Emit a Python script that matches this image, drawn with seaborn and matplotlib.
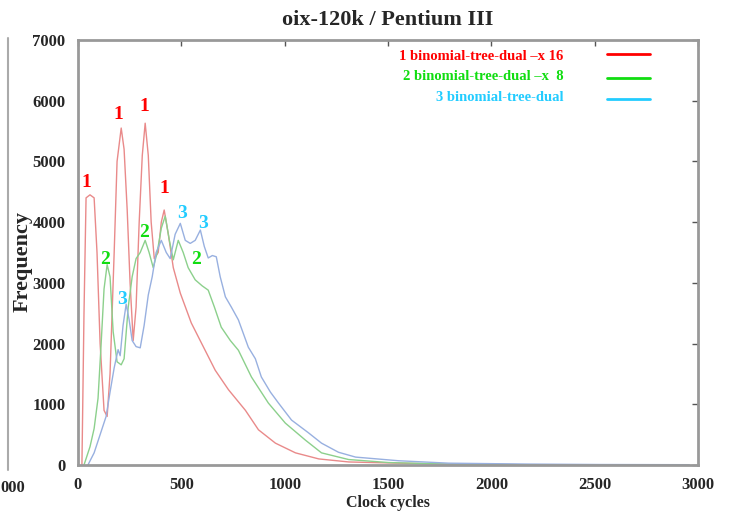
import numpy as np
import pandas as pd
import matplotlib
matplotlib.use("Agg")
import matplotlib.pyplot as plt
from matplotlib.lines import Line2D
import seaborn as sns

# ---------------- data ----------------
red_x = [19, 29, 39, 58, 78, 92, 107, 126, 141, 155, 175, 189, 209, 223, 238, 252, 267, 281,
         296, 311, 325, 340, 354, 369, 388, 403, 417, 437, 461, 495, 548, 597, 664, 728, 810,
         873, 955, 1052, 1165, 1310, 1550, 1795, 2130, 2330]
red_y = [0, 2500, 4400, 4450, 4400, 3500, 2000, 900, 800, 1500, 3500, 5000, 5550, 5200, 4200,
         3000, 2050, 2600, 4000, 5100, 5630, 5100, 4000, 3400, 3500, 4000, 4200, 3800, 3250,
         2830, 2340, 2010, 1560, 1240, 900, 580, 360, 200, 100, 50, 30, 15, 5, 0]

green_x = [29, 58, 78, 97, 112, 126, 141, 155, 170, 189, 209, 223, 243, 262, 281, 301, 325,
           344, 364, 383, 403, 422, 442, 461, 485, 509, 533, 567, 601, 630, 660, 693, 737, 776,
           839, 921, 1003, 1100, 1178, 1309, 1503, 1794, 2130, 2424]
green_y = [0, 300, 600, 1100, 2000, 2900, 3300, 3100, 2200, 1700, 1650, 1750, 2600, 3100,
           3400, 3500, 3700, 3500, 3250, 3500, 3900, 4100, 3700, 3380, 3700, 3500, 3250, 3050,
           2950, 2880, 2600, 2270, 2050, 1890, 1450, 1020, 690, 410, 200, 90, 40, 15, 5, 0]

blue_x = [48, 78, 107, 136, 155, 175, 194, 204, 218, 233, 247, 262, 281, 301, 320, 340, 359,
          378, 403, 427, 446, 470, 495, 519, 543, 567, 592, 611, 630, 650, 669, 688, 713, 742,
          776, 824, 858, 887, 931, 970, 1033, 1115, 1178, 1260, 1343, 1551, 1794, 2182, 2520,
          2957]
blue_y = [0, 200, 500, 800, 1200, 1600, 1900, 1800, 2300, 2650, 2400, 2050, 1950, 1930, 2300,
          2800, 3100, 3500, 3700, 3500, 3400, 3800, 3980, 3700, 3650, 3700, 3870, 3600, 3410,
          3450, 3430, 3100, 2770, 2600, 2390, 1940, 1750, 1450, 1200, 1020, 740, 530, 360, 210,
          130, 70, 30, 15, 8, 5]

series_names = ["1 binomial-tree-dual \u2013x 16",
                "2 binomial-tree-dual \u2013x  8",
                "3 binomial-tree-dual"]
line_colors = ["#e98a8a", "#8cd08c", "#98b0e0"]
text_colors = ["#ff0000", "#11dd11", "#22ccff"]

# curve marker labels: (series index, x, y)
mark_idx = [0, 0, 0, 0, 1, 1, 1, 2, 2, 2]
mark_x = [39, 194, 320, 417, 131, 320, 573, 214, 505, 607]
mark_y = [4645, 5770, 5910, 4560, 3380, 3830, 3380, 2720, 4150, 3980]

x_ticks = [0, 500, 1000, 1500, 2000, 2500, 3000]
y_ticks = [0, 1000, 2000, 3000, 4000, 5000, 6000, 7000]

# ---------------- figure ----------------
sns.set_style("white")
plt.rcParams["font.family"] = ["Liberation Serif", "DejaVu Serif"]
plt.rcParams["font.weight"] = "bold"

fig = plt.figure(figsize=(7.31, 5.15), dpi=100)
ax = fig.add_axes([0.1067, 0.0971, 0.955 - 0.1067, 0.9223 - 0.0971])

frames = []
for i, (xs, ys) in enumerate([(red_x, red_y), (green_x, green_y), (blue_x, blue_y)]):
    frames.append(pd.DataFrame({"x": xs, "y": ys, "s": series_names[i]}))
df = pd.concat(frames, ignore_index=True)

sns.lineplot(data=df, x="x", y="y", hue="s", palette=dict(zip(series_names, line_colors)),
             ax=ax, linewidth=1.0, legend=False, sort=False, estimator=None)

ax.set_xlim(0, 3000)
ax.set_ylim(0, 7000)
ax.set_xticks(x_ticks)
ax.set_yticks(y_ticks)
ax.set_xticklabels([str(v) for v in x_ticks], fontsize=12, fontweight="bold")
ax.set_yticklabels([str(v) for v in y_ticks], fontsize=12, fontweight="bold")
ax.tick_params(axis="both", direction="in", length=4, width=1, color="#555555",
               top=True, right=True)
ax.tick_params(axis="x", pad=9)
ax.tick_params(axis="y", pad=9)
for sp in ax.spines.values():
    sp.set_color("#999999")
    sp.set_linewidth(2)

ax.set_title("oix-120k / Pentium III", fontsize=16, fontweight="bold", pad=11)
ax.set_xlabel("Clock cycles", fontsize=11.5, fontweight="bold", labelpad=1)
ax.set_ylabel("Frequency", fontsize=16, fontweight="bold")
ax.yaxis.set_label_coords(-0.073, 0.478)

# curve labels
for i, xv, yv in zip(mark_idx, mark_x, mark_y):
    ax.text(xv, yv, str(i + 1), color=text_colors[i], fontsize=14, fontweight="bold",
            ha="center", va="center")

# legend (gnuplot style: right-aligned coloured text + line sample)
text_y = [0.962, 0.913, 0.864]
line_y = [0.967, 0.911, 0.861]
for i in range(3):
    ax.text(0.783, text_y[i], series_names[i], transform=ax.transAxes, ha="right",
            va="center", color=text_colors[i], fontsize=10.5, fontweight="bold")
    ax.add_line(Line2D([0.853, 0.923], [line_y[i], line_y[i]],
                       transform=ax.transAxes, color=text_colors[i], linewidth=2))

# partial neighbouring chart at the far left edge
fig.add_artist(Line2D([8 / 731, 8 / 731], [1 - 38 / 515, 1 - 470 / 515],
                      transform=fig.transFigure, color="#aaaaaa", linewidth=1.5))
fig.text(0.0, 1 - 488 / 515, "000", fontsize=12, fontweight="bold", ha="left", va="center")

fig.savefig("out.png", dpi=100)
